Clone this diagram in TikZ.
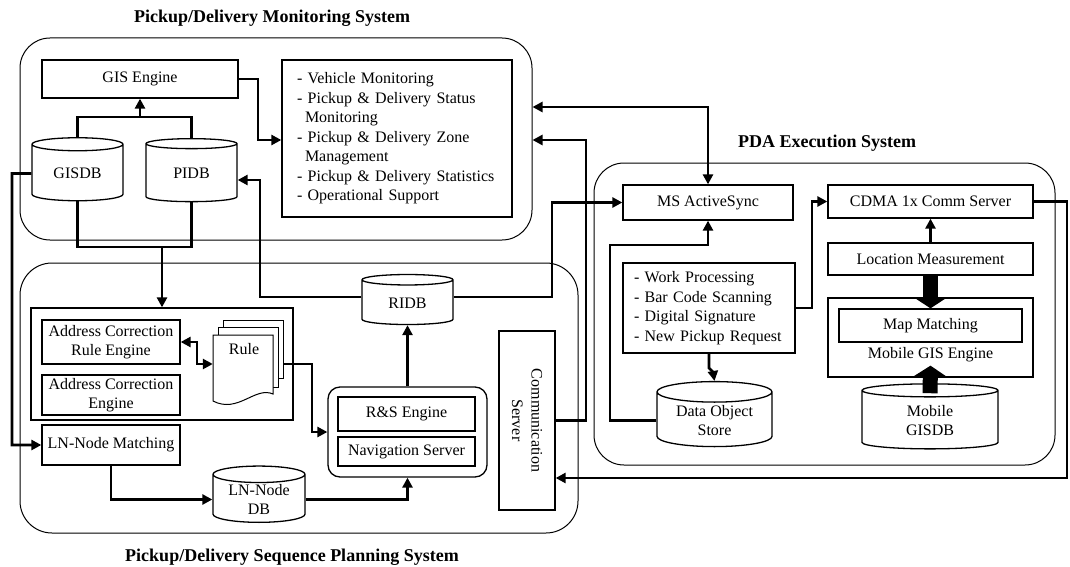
\documentclass[tikz,border=0pt]{standalone}
\usepackage{fontspec}
\setmainfont{Liberation Serif}
\usetikzlibrary{arrows.meta,shapes.geometric,positioning}

\begin{document}
\begin{tikzpicture}[x=1pt,y=-1pt,
  font=\fontsize{16}{19.5}\selectfont,
  panel/.style={draw,line width=1pt,rounded corners=30pt},
  box/.style={draw,line width=1.3pt,inner sep=2pt,align=center},
  db/.style={draw,line width=1.3pt,cylinder,shape border rotate=90,aspect=0.26,align=center,inner sep=1pt},
  ttl/.style={font=\fontsize{18}{20}\selectfont\bfseries},
  line/.style={line width=2.8pt},
  arr/.style={line,-{Triangle[length=10pt,width=10pt]}},
  dbl/.style={line,{Triangle[length=10pt,width=10pt]}-{Triangle[length=10pt,width=10pt]}},
  fat/.style={line width=15pt,-{Triangle[length=11pt,width=33pt]}}]

\useasboundingbox (0,0) rectangle (1070,567);

% =====================
% Subsystem frames
% =====================
\node[panel,minimum width=512pt,minimum height=202pt] (mon) at (276,139) {};
\node[panel,minimum width=558pt,minimum height=270pt,rounded corners=32pt] (plan) at (299,398) {};
\node[panel,minimum width=461pt,minimum height=302pt] (pda) at (824.5,314) {};

\node[ttl] (montitle) at (272,18) {Pickup/Delivery Monitoring System};
\node[ttl] (pdatitle) at (827,143) {PDA Execution System};
\node[ttl] (plantitle) at (292,557) {Pickup/Delivery Sequence Planning System};

% =====================
% Monitoring
% =====================
\node[box,minimum width=196pt,minimum height=38pt] (gis) at (140,79) {GIS Engine};
\node[box,minimum width=230pt,minimum height=157pt,text width=200pt,align=left] (monlist) at (397,138.5)
  {- Vehicle Monitoring\\- Pickup \& Delivery Status\\\hspace*{0.5em}Monitoring\\- Pickup \& Delivery Zone\\\hspace*{0.5em}Management\\- Pickup \& Delivery Statistics\\- Operational Support};
\node[db,minimum width=91pt,minimum height=63pt] (gisdb) at (77.5,173.5) {GISDB};
\node[db,minimum width=91pt,minimum height=63pt] (pidb) at (191.5,173.5) {PIDB};

% =====================
% Sequence planning
% =====================
\node[draw,line width=1.3pt,minimum width=262pt,minimum height=112pt] (acgrp) at (162,364) {};
\node[box,minimum width=138pt,minimum height=44pt] (acrule) at (111,342) {Address Correction\\Rule Engine};
\node[box,minimum width=138pt,minimum height=40pt] (aceng) at (111,395) {Address Correction\\Engine};
\node[box,minimum width=138pt,minimum height=40pt] (lnmatch) at (111,445) {LN-Node Matching};

% rule sheets
\node[minimum width=70pt,minimum height=88pt,inner sep=0pt] (rule) at (248,364) {};
\filldraw[fill=white,line width=1pt] (223,320) rectangle (283,378);
\filldraw[fill=white,line width=1pt] (218,327) rectangle (278,387);
\filldraw[fill=white,line width=1pt] (213,335) -- (273,335) -- (273,394)
  .. controls (255,386) and (238,414) .. (213,401) -- cycle;
\node (ruletxt) at (244,349) {Rule};

\node[db,minimum width=91pt,minimum height=50pt] (ridb) at (407.5,303) {RIDB};
\node[draw,line width=1.3pt,rounded corners=12pt,minimum width=159pt,minimum height=90pt] (rsgrp) at (407.5,432) {};
\node[box,minimum width=137pt,minimum height=34pt] (rseng) at (406.5,414) {R\&S Engine};
\node[box,minimum width=137pt,minimum height=29pt] (navsrv) at (406.5,451.5) {Navigation Server};
\node[db,minimum width=92pt,minimum height=55pt] (lndb) at (259,499.5) {LN-Node\\DB};
\node[box,minimum width=56pt,minimum height=179pt] (comm) at (527,420.5) {};
\node[rotate=-90,align=center] (commtxt) at (comm.center) {Communication\\Server};

% =====================
% PDA execution
% =====================
\node[box,minimum width=170pt,minimum height=35pt] (msas) at (708,202.5) {MS ActiveSync};
\node[box,minimum width=205pt,minimum height=33pt] (cdma) at (930.5,201.5) {CDMA 1x Comm Server};
\node[box,minimum width=205pt,minimum height=32pt] (locm) at (930.5,259) {Location Measurement};
\node[box,minimum width=205pt,minimum height=79pt] (mgis) at (930.5,337.5) {};
\node[box,minimum width=183pt,minimum height=33pt] (mapm) at (930.5,325.5) {Map Matching};
\node[below=1pt of mapm] (mgislbl) {Mobile GIS Engine};
\node[db,minimum width=136pt,minimum height=65pt] (mgisdb) at (930,420.5) {Mobile\\GISDB};
\node[box,minimum width=172pt,minimum height=90pt,text width=150pt,align=left] (work) at (709,308)
  {- Work Processing\\- Bar Code Scanning\\- Digital Signature\\- New Pickup Request};
\node[db,minimum width=115pt,minimum height=65pt] (dos) at (714.5,420.5) {Data Object\\Store};

% =====================
% Links
% =====================
\draw[line] (gisdb.north) -- (gisdb.north |- 0,117) -| (pidb.north);
\draw[arr] (gis.south |- 0,117) -- (gis.south);
\draw[arr] (gis.east) -- (258,79) |- (monlist.west |- 0,140);
\draw[line] (gisdb.south) -- (gisdb.south |- 0,247) -| (pidb.south);
\draw[arr] (acgrp.north |- 0,247) -- (acgrp.north);
\draw[arr] (gisdb.west) -- (12,173.5) |- (lnmatch.west);
\draw[arr] (ridb.west |- 0,297) -- (260,297) |- (pidb.east |- 0,180);
\draw[arr] (ridb.east |- 0,297) -- (552,297) |- (msas.west);
\draw[dbl] (mon.east |- 0,107) -| (msas.north);
\draw[arr] (comm.east) -- (586,420.5) |- (mon.east |- 0,140);

\draw[dbl] (acrule.east) -- (197,342) |- (rule.west);
\draw[arr] (rule.east) -- (312,364) |- (rsgrp.west);
\draw[arr] (rsgrp.north) -- (ridb.south);
\draw[arr] (lnmatch.south) |- (lndb.west);
\draw[arr] (lndb.east) -| (rsgrp.south);

\draw[arr] (dos.west) -| (610,245) -| (msas.south);
\draw[arr] (work.south) -- (709,368) -- (713,372) -- (dos.north);
\draw[arr] (work.east) -- (812,308) |- (cdma.west);
\draw[arr] (locm.north) -- (cdma.south);
\draw[arr] (cdma.east) -- (1067,201.5) |- (comm.east |- 0,478);

\draw[fat] (locm.south) -- (mapm.north);
\draw[fat] ([yshift=-10pt]mgisdb.north) -- ([yshift=12pt]mgis.south);

\end{tikzpicture}
\end{document}
